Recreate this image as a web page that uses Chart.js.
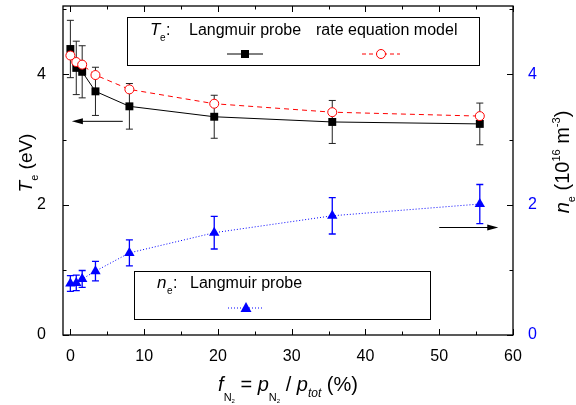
<!DOCTYPE html>
<html>
<head>
<meta charset="utf-8">
<script src="https://cdn.jsdelivr.net/npm/chart.js@4/dist/chart.umd.min.js"></script>
<style>
  html, body { margin: 0; padding: 0; background: #fff; }
  #chart { display: block; }
</style>
</head>
<body>
<canvas id="chart" width="576" height="405"></canvas>
<script>
// N2 fraction in the gas mix (%)
const fN2 = [0, 0.8, 1.6, 3.4, 8.0, 19.5, 35.5, 55.5];
// electron temperature (eV)
const teProbe = [4.39, 4.10, 4.04, 3.74, 3.51, 3.35, 3.27, 3.24];
const teProbeErr = [0.44, 0.41, 0.40, 0.37, 0.35, 0.33, 0.33, 0.32];
const teModel = [4.29, 4.19, 4.15, 3.99, 3.77, 3.55, 3.42, 3.36];
// electron density (1e16 m^-3)
const neProbe = [0.79, 0.80, 0.86, 0.98, 1.26, 1.57, 1.83, 2.01];
const neProbeErr = [0.12, 0.12, 0.13, 0.15, 0.20, 0.25, 0.28, 0.30];

const xRange = [-1, 60];
const yRange = [0, 5.05];

// arrows telling which axis each curve belongs to
const axisArrows = [
  { from: [7.1, 3.28], to: [0.2, 3.28], yAxis: 'y' },
  { from: [50.0, 1.65], to: [58.0, 1.65], yAxis: 'y1' }
];

const FONT = 'Liberation Sans, Arial, sans-serif';
const BLUE = '#0000ff';
const RED = '#ff0000';

Chart.defaults.font.family = FONT;
Chart.defaults.color = '#000';

const toPoints = (ys) => fN2.map((x, i) => ({ x: x, y: ys[i] }));

// draws a run of text pieces (italic, sub/superscripts) centred on x
function drawRich(ctx, parts, x, y) {
  let width = 0;
  parts.forEach(p => {
    ctx.font = (p.italic ? 'italic ' : '') + p.size + 'px ' + FONT;
    p.w = ctx.measureText(p.t).width;
    width += p.w;
  });
  let cx = x - width / 2;
  ctx.textAlign = 'left';
  ctx.textBaseline = 'alphabetic';
  parts.forEach(p => {
    ctx.font = (p.italic ? 'italic ' : '') + p.size + 'px ' + FONT;
    ctx.fillText(p.t, cx, y + (p.dy || 0));
    cx += p.w;
  });
}

function drawMarker(ctx, style, x, y) {
  ctx.save();
  ctx.lineWidth = 1;
  ctx.setLineDash([]);
  if (style === 'rect') {
    ctx.fillStyle = '#000';
    ctx.fillRect(x - 4, y - 4, 8, 8);
  } else if (style === 'circle') {
    ctx.beginPath();
    ctx.arc(x, y, 4.5, 0, Math.PI * 2);
    ctx.fillStyle = '#fff';
    ctx.fill();
    ctx.strokeStyle = RED;
    ctx.stroke();
  } else {
    ctx.beginPath();
    ctx.moveTo(x, y - 6);
    ctx.lineTo(x + 5.5, y + 4);
    ctx.lineTo(x - 5.5, y + 4);
    ctx.closePath();
    ctx.fillStyle = BLUE;
    ctx.fill();
  }
  ctx.restore();
}

function legendSample(ctx, x0, x1, y, color, dash, marker) {
  ctx.save();
  ctx.strokeStyle = color;
  ctx.lineWidth = 1;
  ctx.setLineDash(dash);
  ctx.beginPath();
  ctx.moveTo(x0, y);
  ctx.lineTo(x1, y);
  ctx.stroke();
  ctx.restore();
  drawMarker(ctx, marker, (x0 + x1) / 2, y);
}

const errorBars = {
  id: 'errorBars',
  beforeDatasetsDraw(chart) {
    const ctx = chart.ctx;
    const xs = chart.scales.x;
    chart.data.datasets.forEach(ds => {
      if (!ds.err) return;
      const ys = chart.scales[ds.yAxisID];
      ctx.save();
      ctx.strokeStyle = ds.errColor;
      ctx.lineWidth = ds.errWidth;
      ds.data.forEach((p, i) => {
        const px = xs.getPixelForValue(p.x);
        const top = ys.getPixelForValue(p.y + ds.err[i]);
        const bot = ys.getPixelForValue(p.y - ds.err[i]);
        ctx.beginPath();
        ctx.moveTo(px, top); ctx.lineTo(px, bot);
        ctx.moveTo(px - 3.5, top); ctx.lineTo(px + 3.5, top);
        ctx.moveTo(px - 3.5, bot); ctx.lineTo(px + 3.5, bot);
        ctx.stroke();
      });
      ctx.restore();
    });
  }
};

const frameAndText = {
  id: 'frameAndText',
  afterDraw(chart) {
    const ctx = chart.ctx;
    const a = chart.chartArea;
    const xs = chart.scales.x;
    const ys = chart.scales.y;

    // box with inward ticks on all four sides
    ctx.save();
    ctx.strokeStyle = '#000';
    ctx.lineWidth = 1.3;
    ctx.strokeRect(a.left, a.top, a.right - a.left, a.bottom - a.top);
    ctx.lineWidth = 1;
    ctx.beginPath();
    for (let v = 0; v <= 60; v += 5) {
      const px = Math.round(xs.getPixelForValue(v)) + 0.5;
      const len = v % 10 === 0 ? 6 : 3.5;
      ctx.moveTo(px, a.bottom); ctx.lineTo(px, a.bottom - len);
      ctx.moveTo(px, a.top); ctx.lineTo(px, a.top + len);
    }
    for (let v = 0; v <= 5; v += 1) {
      const py = Math.round(ys.getPixelForValue(v)) + 0.5;
      const len = v % 2 === 0 ? 6 : 3.5;
      ctx.moveTo(a.left, py); ctx.lineTo(a.left + len, py);
      ctx.moveTo(a.right, py); ctx.lineTo(a.right - len, py);
    }
    ctx.stroke();

    // arrows
    axisArrows.forEach(ar => {
      const yScale = chart.scales[ar.yAxis];
      const x0 = xs.getPixelForValue(ar.from[0]);
      const x1 = xs.getPixelForValue(ar.to[0]);
      const py = yScale.getPixelForValue(ar.from[1]);
      const dir = Math.sign(x1 - x0);
      ctx.beginPath();
      ctx.moveTo(x0, py); ctx.lineTo(x1 - dir * 8, py);
      ctx.stroke();
      ctx.beginPath();
      ctx.moveTo(x1, py);
      ctx.lineTo(x1 - dir * 11, py - 3);
      ctx.lineTo(x1 - dir * 11, py + 3);
      ctx.closePath();
      ctx.fillStyle = '#000';
      ctx.fill();
    });

    // axis titles
    ctx.fillStyle = '#000';
    drawRich(ctx, [
      { t: 'f', size: 20, italic: true },
      { t: 'N', size: 11, dy: 10 },
      { t: '2', size: 6, dy: 12 },
      { t: ' = ', size: 20 },
      { t: 'p', size: 20, italic: true },
      { t: 'N', size: 11, dy: 10 },
      { t: '2', size: 6, dy: 12 },
      { t: ' / ', size: 20 },
      { t: 'p', size: 20, italic: true },
      { t: 'tot', size: 12, italic: true, dy: 6 },
      { t: ' (%)', size: 20 }
    ], 288, 391);

    ctx.save();
    ctx.translate(32, 163);
    ctx.rotate(-Math.PI / 2);
    drawRich(ctx, [
      { t: 'T', size: 19, italic: true },
      { t: 'e', size: 11, dy: 6 },
      { t: ' (eV)', size: 19 }
    ], 0, 0);
    ctx.restore();

    ctx.save();
    ctx.translate(569, 162);
    ctx.rotate(-Math.PI / 2);
    drawRich(ctx, [
      { t: 'n', size: 20, italic: true },
      { t: 'e', size: 11, dy: 6 },
      { t: ' (10', size: 20 },
      { t: '16', size: 11, dy: -9 },
      { t: ' m', size: 20 },
      { t: '-3', size: 11, dy: -9 },
      { t: ')', size: 20 }
    ], 0, 0);
    ctx.restore();

    // legend boxes
    ctx.lineWidth = 1;
    ctx.fillStyle = '#fff';
    ctx.fillRect(127, 17, 352, 48);
    ctx.strokeRect(127.5, 17.5, 352, 48);
    ctx.fillRect(134, 271, 296, 48);
    ctx.strokeRect(134.5, 271.5, 296, 48);

    ctx.fillStyle = '#000';
    ctx.textAlign = 'left';
    ctx.font = 'italic 17px ' + FONT;
    ctx.fillText('T', 150, 35);
    ctx.font = '10px ' + FONT;
    ctx.fillText('e', 160, 41);
    ctx.font = '16px ' + FONT;
    ctx.fillText(':', 166, 35);
    ctx.fillText('Langmuir probe', 189, 35);
    ctx.fillText('rate equation model', 316, 35);
    legendSample(ctx, 227, 263, 54, '#000', [], 'rect');
    legendSample(ctx, 362, 400, 54, RED, [4, 3], 'circle');

    ctx.font = 'italic 17px ' + FONT;
    ctx.fillText('n', 157, 288);
    ctx.font = '10px ' + FONT;
    ctx.fillText('e', 167, 294);
    ctx.font = '16px ' + FONT;
    ctx.fillText(':', 173, 288);
    ctx.fillText('Langmuir probe', 190, 288);
    legendSample(ctx, 228, 264, 308, BLUE, [1, 2], 'triangle');
    ctx.restore();
  }
};

// fixed axis sizes, and no extra room for half-labels at the ends
const fitWidth = (w) => (s) => { s.width = w; s.paddingTop = 0; s.paddingBottom = 0; };
const fitHeight = (h) => (s) => { s.height = h; s.paddingLeft = 0; s.paddingRight = 0; };

const ctx = document.getElementById('chart').getContext('2d');
const chart = new Chart(ctx, {
  type: 'line',
  data: {
    datasets: [
      {
        label: 'Te rate equation model',
        data: toPoints(teModel),
        yAxisID: 'y',
        borderColor: RED,
        borderWidth: 1,
        borderDash: [5, 4],
        pointStyle: 'circle',
        pointRadius: 4.5,
        pointBackgroundColor: '#fff',
        pointBorderColor: RED,
        pointBorderWidth: 1,
        order: 0
      },
      {
        label: 'Te Langmuir probe',
        data: toPoints(teProbe),
        err: teProbeErr,
        errColor: '#222',
        errWidth: 1,
        yAxisID: 'y',
        borderColor: '#000',
        borderWidth: 1,
        pointStyle: 'rect',
        pointRadius: 5.6,
        pointBackgroundColor: '#000',
        pointBorderColor: '#000',
        pointBorderWidth: 0,
        order: 1
      },
      {
        label: 'ne Langmuir probe',
        data: toPoints(neProbe),
        err: neProbeErr,
        errColor: BLUE,
        errWidth: 1.3,
        yAxisID: 'y1',
        borderColor: BLUE,
        borderWidth: 1,
        borderDash: [1, 2],
        pointStyle: 'triangle',
        pointRadius: 6,
        pointBackgroundColor: BLUE,
        pointBorderColor: BLUE,
        pointBorderWidth: 0,
        order: 2
      }
    ]
  },
  options: {
    responsive: false,
    animation: false,
    layout: { padding: { top: 5 } },
    plugins: { legend: { display: false }, tooltip: { enabled: false } },
    elements: { line: { tension: 0 } },
    scales: {
      x: {
        type: 'linear',
        min: xRange[0], max: xRange[1],
        grid: { display: false },
        border: { display: false },
        ticks: { stepSize: 10, includeBounds: false, padding: 4, font: { size: 16 }, color: '#000' },
        afterFit: fitHeight(70)
      },
      y: {
        position: 'left',
        min: yRange[0], max: yRange[1],
        grid: { display: false },
        border: { display: false },
        ticks: { stepSize: 2, includeBounds: false, padding: 9, font: { size: 16 }, color: '#000' },
        afterFit: fitWidth(63)
      },
      y1: {
        position: 'right',
        min: yRange[0], max: yRange[1],
        grid: { display: false },
        border: { display: false },
        ticks: { stepSize: 2, includeBounds: false, padding: 7, font: { size: 16 }, color: BLUE },
        afterFit: fitWidth(63)
      }
    }
  },
  plugins: [errorBars, frameAndText]
});
</script>
</body>
</html>
